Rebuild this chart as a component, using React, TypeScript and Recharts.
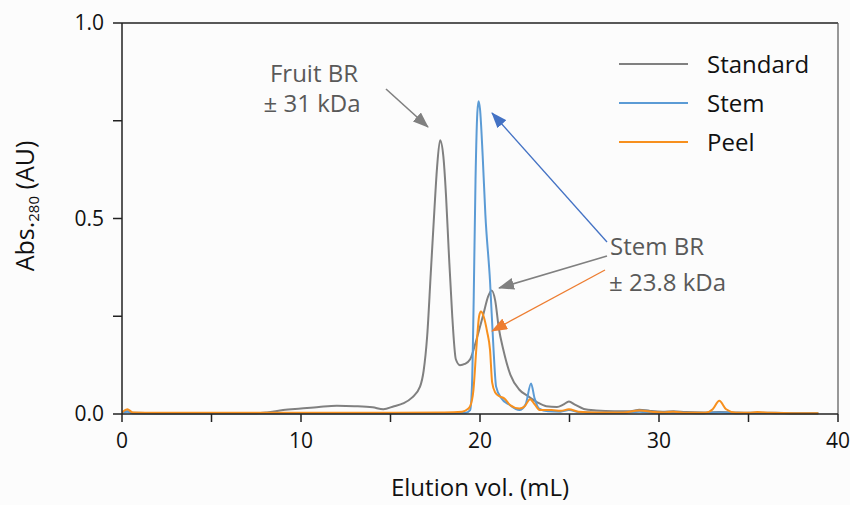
import React from 'react';
import { LineChart, Line, XAxis, YAxis, ReferenceLine } from 'recharts';

// Elution volume (mL) and absorbance readings per sample
const standardX = [0, 0.3, 0.6, 2, 5, 7.5, 8.1, 9, 10, 11, 12, 13, 14, 14.6, 15.2, 15.7, 16.2, 16.65, 16.85, 17.05, 17.25, 17.45, 17.6, 17.77, 17.95, 18.1, 18.25, 18.45, 18.65, 18.88, 19.15, 19.45, 19.8, 20.2, 20.45, 20.65, 20.85, 21.05, 21.3, 21.7, 22.2, 22.7, 23.2, 23.7, 24.3, 24.65, 24.97, 25.3, 25.8, 26.5, 27.5, 28.4, 28.9, 29.5, 30.2, 30.8, 31.5, 32.5, 33.37, 34.2, 35.5, 36.5, 37.5, 38.9];
const standardY = [0.004, 0.007, 0.003, 0.002, 0.002, 0.002, 0.004, 0.01, 0.014, 0.018, 0.021, 0.02, 0.017, 0.012, 0.02, 0.027, 0.042, 0.07, 0.11, 0.2, 0.36, 0.52, 0.63, 0.70, 0.66, 0.56, 0.42, 0.25, 0.14, 0.125, 0.128, 0.14, 0.19, 0.257, 0.3, 0.316, 0.29, 0.22, 0.165, 0.1, 0.062, 0.045, 0.03, 0.02, 0.018, 0.024, 0.032, 0.024, 0.013, 0.009, 0.007, 0.007, 0.011, 0.008, 0.006, 0.007, 0.005, 0.004, 0.005, 0.004, 0.003, 0.003, 0.002, 0.002];

const stemX = [0, 0.3, 0.6, 2, 8, 14, 18, 19.2, 19.45, 19.55, 19.65, 19.75, 19.85, 19.92, 20.0, 20.15, 20.3, 20.56, 20.75, 20.9, 21.2, 21.6, 22.2, 22.55, 22.85, 23.05, 23.3, 23.8, 24.5, 24.97, 25.5, 26.5, 28, 28.9, 29.8, 31, 32.5, 33.37, 34.3, 35.5, 36.5, 38.9];
const stemY = [0.004, 0.006, 0.002, 0.001, 0.001, 0.001, 0.002, 0.003, 0.01, 0.07, 0.3, 0.6, 0.77, 0.80, 0.78, 0.66, 0.51, 0.34, 0.17, 0.07, 0.04, 0.025, 0.01, 0.025, 0.078, 0.04, 0.014, 0.007, 0.006, 0.01, 0.005, 0.003, 0.003, 0.006, 0.003, 0.003, 0.002, 0.004, 0.002, 0.003, 0.002, 0.001];

const peelX = [0, 0.3, 0.6, 2, 8, 14, 18, 19.0, 19.3, 19.45, 19.63, 19.8, 19.95, 20.05, 20.2, 20.4, 20.56, 20.68, 20.85, 21.1, 21.35, 21.68, 22.2, 22.5, 22.8, 23.05, 23.35, 24.0, 24.5, 24.97, 25.5, 26.5, 28, 28.9, 29.7, 30.3, 30.8, 31.5, 32.6, 33.0, 33.37, 33.75, 34.3, 35, 35.5, 36.2, 37.5, 38.9];
const peelY = [0.004, 0.012, 0.004, 0.003, 0.003, 0.003, 0.004, 0.006, 0.012, 0.02, 0.06, 0.17, 0.25, 0.262, 0.25, 0.21, 0.164, 0.08, 0.055, 0.045, 0.04, 0.023, 0.014, 0.02, 0.038, 0.025, 0.01, 0.01, 0.008, 0.012, 0.006, 0.004, 0.004, 0.009, 0.005, 0.004, 0.006, 0.003, 0.003, 0.012, 0.034, 0.012, 0.003, 0.003, 0.005, 0.003, 0.002, 0.002];

const xTicks = [0, 5, 10, 15, 20, 25, 30, 35, 40];
const yTicks = [0, 0.25, 0.5, 0.75, 1];

const legendItems = [
  { name: 'Standard', color: '#808080' },
  { name: 'Stem', color: '#5b9bd5' },
  { name: 'Peel', color: '#f7901e' },
];

const toPoints = (xs: number[], ys: number[]) => xs.map((x, i) => ({ x, y: ys[i] }));

const standardData = toPoints(standardX, standardY);
const stemData = toPoints(stemX, stemY);
const peelData = toPoints(peelX, peelY);

const FONT = '"Open Sans", sans-serif';
const W = 850;
const H = 505;

// arrow head marker, sized in pixels
const Head = ({ id, color }: { id: string; color: string }) => (
  <marker id={id} viewBox="0 0 16 12" refX="15" refY="6" markerWidth="16" markerHeight="12" orient="auto" markerUnits="userSpaceOnUse">
    <path d="M0,0 L16,6 L0,12 z" fill={color} />
  </marker>
);

export default function App() {
  return (
    <div style={{ position: 'absolute', left: 0, top: 0, width: W, height: H, background: '#fcfcfc', fontFamily: FONT }}>
      <LineChart width={W} height={H} margin={{ top: 23, right: 12, left: 0, bottom: 0 }}>
        <XAxis
          dataKey="x"
          type="number"
          domain={[0, 40]}
          ticks={xTicks}
          tickFormatter={(v: number) => (v % 10 === 0 ? String(v) : '')}
          height={91}
          tickSize={8}
          tickMargin={11}
          axisLine={{ stroke: '#222', strokeWidth: 1.5 }}
          tickLine={{ stroke: '#222', strokeWidth: 1.5 }}
          tick={{ fill: '#111', fontSize: 21, fontFamily: FONT }}
          allowDataOverflow
        />
        <YAxis
          type="number"
          domain={[0, 1]}
          ticks={yTicks}
          tickFormatter={(v: number) => (v === 0.25 || v === 0.75 ? '' : v.toFixed(1))}
          width={122}
          tickSize={9}
          tickMargin={9}
          axisLine={{ stroke: '#222', strokeWidth: 1.5 }}
          tickLine={{ stroke: '#222', strokeWidth: 1.5 }}
          tick={{ fill: '#111', fontSize: 21, fontFamily: FONT }}
        />
        <ReferenceLine y={1} stroke="#222" strokeWidth={1.5} />
        <ReferenceLine x={40} stroke="#555" strokeWidth={1.2} />
        <Line data={standardData} dataKey="y" type="monotone" stroke="#808080" strokeWidth={2} dot={false} isAnimationActive={false} />
        <Line data={stemData} dataKey="y" type="monotone" stroke="#5b9bd5" strokeWidth={2} dot={false} isAnimationActive={false} />
        <Line data={peelData} dataKey="y" type="monotone" stroke="#f7901e" strokeWidth={2} dot={false} isAnimationActive={false} />
      </LineChart>

      <svg width={W} height={H} style={{ position: 'absolute', left: 0, top: 0, pointerEvents: 'none' }}>
        <defs>
          <Head id="hGray" color="#808080" />
          <Head id="hBlue" color="#4472c4" />
          <Head id="hOrange" color="#ed7d31" />
        </defs>

        {/* annotations */}
        <g fontFamily={FONT} fontSize={24} fill="#595959" textAnchor="middle">
          <text x={314} y={82}>Fruit BR</text>
          <text x={312} y={112}>± 31 kDa</text>
        </g>
        <g fontFamily={FONT} fontSize={24} fill="#595959">
          <text x={610} y={255}>Stem BR</text>
          <text x={609} y={291}>± 23.8 kDa</text>
        </g>
        <line x1={386} y1={89} x2={428} y2={127} stroke="#808080" strokeWidth={1.6} markerEnd="url(#hGray)" />
        <line x1={607} y1={242} x2={492} y2={113} stroke="#4472c4" strokeWidth={1.3} markerEnd="url(#hBlue)" />
        <line x1={607} y1={256} x2={499} y2={288} stroke="#808080" strokeWidth={1.6} markerEnd="url(#hGray)" />
        <line x1={605} y1={270} x2={492} y2={331} stroke="#ed7d31" strokeWidth={1.3} markerEnd="url(#hOrange)" />

        {/* legend */}
        {legendItems.map((item, i) => (
          <g key={item.name}>
            <line x1={619} x2={688} y1={64 + i * 39} y2={64 + i * 39} stroke={item.color} strokeWidth={2} />
            <text x={707} y={73 + i * 39} fontFamily={FONT} fontSize={24} fill="#111">{item.name}</text>
          </g>
        ))}

        {/* axis titles */}
        <text x={480} y={496} textAnchor="middle" fontFamily={FONT} fontSize={24} fill="#111">Elution vol. (mL)</text>
        <text transform="translate(34,206) rotate(-90)" textAnchor="middle" fontFamily={FONT} fontSize={25} fill="#111">
          Abs.<tspan fontSize={15} dy={5}>280</tspan><tspan dy={-5}> (AU)</tspan>
        </text>
      </svg>
    </div>
  );
}
